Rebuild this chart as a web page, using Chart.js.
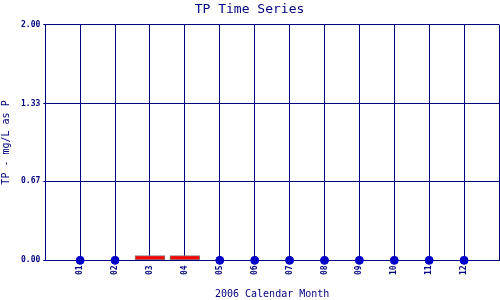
<!DOCTYPE html>
<html>
<head>
<meta charset="utf-8">
<script src="https://cdn.jsdelivr.net/npm/chart.js@4/dist/chart.umd.min.js"></script>
<style>
html, body { margin: 0; padding: 0; background: #fff; }
#wrap { width: 500px; height: 300px; }
</style>
</head>
<body>
<div id="wrap"><canvas id="grafico"></canvas></div>
<script>
// DADOS
var monthLabels = ['01','02','03','04','05','06','07','08','09','10','11','12'];
var dotMonths = [1, 2, 5, 6, 7, 8, 9, 10, 11, 12];
var dotValues = [0, 0, 0, 0, 0, 0, 0, 0, 0, 0];
var barMonths = [3, 4];
var barValues = [0.04, 0.04];
var yTicks = [0, 0.67, 1.33, 2.00];

var navy = '#000080';
var mono = 'DejaVu Sans Mono';

new Chart(document.getElementById('grafico'), {
  type: 'bar',
  data: {
    datasets: [{
      type: 'bar',
      data: barMonths.map(function (m, i) { return { x: m, y: barValues[i] }; }),
      backgroundColor: '#ff0000',
      borderColor: '#808080',
      borderWidth: 1,
      barThickness: 30,
      borderSkipped: false
    }, {
      type: 'scatter',
      data: dotMonths.map(function (m, i) { return { x: m, y: dotValues[i] }; }),
      backgroundColor: '#0000c8',
      borderColor: '#0000c8',
      pointRadius: 4,
      clip: false
    }]
  },
  options: {
    responsive: true,
    maintainAspectRatio: false,
    animation: false,
    layout: { autoPadding: false, padding: { right: 1 } },
    plugins: {
      legend: { display: false },
      tooltip: { enabled: false },
      title: {
        display: true,
        text: 'TP Time Series',
        color: navy,
        font: { family: mono, size: 13, weight: 'normal' },
        padding: { top: 2, bottom: 7 }
      }
    },
    scales: {
      x: {
        type: 'linear',
        min: 0,
        max: 13,
        offset: false,
        afterBuildTicks: function (axis) {
          var t = [];
          for (var i = 0; i <= 13; i++) t.push({ value: i });
          axis.ticks = t;
        },
        afterFit: function (axis) {
          axis.paddingRight = 0;
          axis.paddingLeft = 0;
        },
        ticks: {
          autoSkip: false,
          minRotation: 90,
          maxRotation: 90,
          color: navy,
          font: { family: mono, size: 8, weight: 'bold' },
          padding: 5,
          callback: function (v) { return monthLabels[v - 1] || ''; }
        },
        grid: { color: navy, lineWidth: 1, drawTicks: false, offset: false },
        border: { color: navy },
        title: {
          display: true,
          text: '2006 Calendar Month',
          color: navy,
          font: { family: mono, size: 10 },
          padding: { top: 8, bottom: 0 }
        }
      },
      y: {
        min: 0,
        max: 2,
        afterBuildTicks: function (axis) {
          axis.ticks = yTicks.map(function (v) { return { value: v }; });
        },
        ticks: {
          color: navy,
          font: { family: mono, size: 8, weight: 'bold' },
          padding: 3,
          callback: function (v) { return v.toFixed(2); }
        },
        grid: { color: navy, lineWidth: 1, tickLength: 2 },
        border: { color: navy },
        title: {
          display: true,
          text: 'TP - mg/L as P',
          color: navy,
          font: { family: mono, size: 10 },
          padding: { top: 0, bottom: 6 }
        }
      }
    }
  }
});
</script>
</body>
</html>
